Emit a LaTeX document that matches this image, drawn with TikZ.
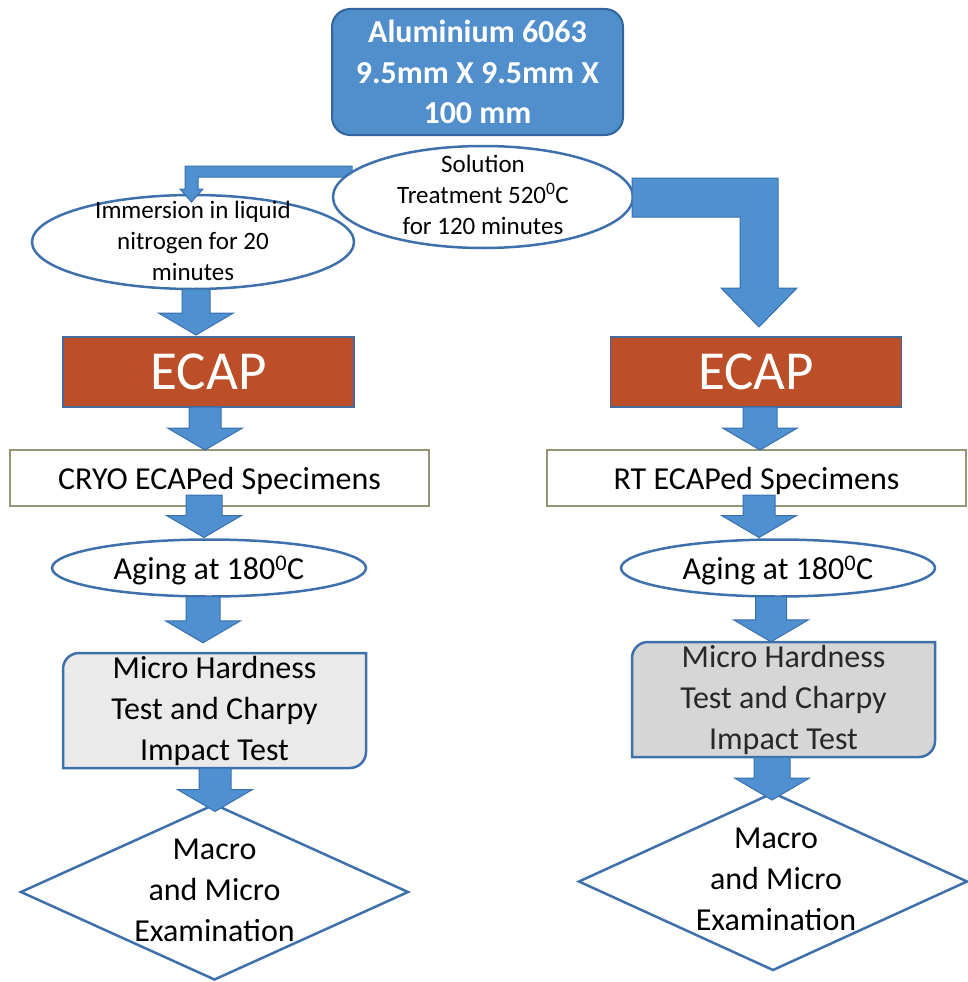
\documentclass[tikz,border=0pt]{standalone}
\usepackage{fontspec}
\setmainfont{Carlito}
\usetikzlibrary{shapes.geometric,calc}

\definecolor{ablue}{RGB}{78,144,208}
\definecolor{aedge}{RGB}{58,112,172}
\definecolor{topblue}{RGB}{80,142,204}
\definecolor{topedge}{RGB}{50,100,160}
\definecolor{eedge}{RGB}{62,112,172}
\definecolor{ecapfill}{RGB}{188,78,40}
\definecolor{ecapedge}{RGB}{70,105,160}
\definecolor{specedge}{RGB}{150,150,118}
\definecolor{microLfill}{RGB}{234,234,234}
\definecolor{microRfill}{RGB}{214,214,214}
\definecolor{microtxt}{RGB}{40,40,40}

\newcommand\fatdown[6]{% cx, source, target, shaft half, overlap, gap
  \path[fatarr] let \p1=(#2.south), \p2=(#3.north) in
    ({#1pt-#4pt},{\y1+(#5)*1pt})
    -- ({#1pt-#4pt},{\y2+(#6)*1pt+22pt})
    -- ({#1pt-37.5pt},{\y2+(#6)*1pt+22pt})
    -- ({#1pt},{\y2+(#6)*1pt})
    -- ({#1pt+37.5pt},{\y2+(#6)*1pt+22pt})
    -- ({#1pt+#4pt},{\y2+(#6)*1pt+22pt})
    -- ({#1pt+#4pt},{\y1+(#5)*1pt})
    -- cycle;}

\newcommand\diagbox[6]{% L, T, R, B, r, style
  \path[#6] (#1,#4) -- (#1,#2+#5)
    .. controls (#1,#2+0.45*#5) and (#1+0.45*#5,#2) .. (#1+#5,#2)
    -- (#3,#2) -- (#3,#4-#5)
    .. controls (#3,#4-0.45*#5) and (#3-0.45*#5,#4) .. (#3-#5,#4)
    -- cycle;}

\tikzset{
  fatarr/.style={fill=ablue, draw=aedge, line width=1pt, line join=miter},
  ell/.style={ellipse, draw=eedge, line width=2.5pt, fill=white, inner sep=0pt, outer sep=0pt},
  txtS/.style={align=center, inner sep=0pt, font=\fontsize{25}{31}\selectfont},
  txtM/.style={align=center, inner sep=0pt, font=\fontsize{32}{41}\selectfont},
  topbox/.style={rectangle, rounded corners=18pt, fill=topblue, draw=topedge, line width=2pt,
    minimum width=291pt, minimum height=126pt, inner sep=0pt, outer sep=0pt, align=center,
    text=white, font=\fontsize{32}{40.5}\selectfont\bfseries},
  ecapbox/.style={rectangle, fill=ecapfill, draw=ecapedge, line width=1.5pt,
    minimum width=291pt, minimum height=70pt, inner sep=0pt, outer sep=0pt,
    text=white, font=\fontsize{55}{60}\selectfont},
  specbox/.style={rectangle, fill=white, draw=specedge, line width=1.2pt,
    minimum width=419pt, minimum height=56pt, inner sep=0pt, outer sep=0pt,
    text depth=0pt, font=\fontsize{32}{38}\selectfont},
  microL/.style={fill=microLfill, draw=eedge, line width=2.5pt},
  microR/.style={fill=microRfill, draw=eedge, line width=2.5pt},
  diam/.style={diamond, draw=eedge, line width=2.5pt, fill=white, inner sep=0pt, outer sep=0pt},
}

\begin{document}
\begin{tikzpicture}[x=1pt,y=-1pt]
\useasboundingbox (0,0) rectangle (968,982);

% top block
\node[topbox] (top) at (477.5,72) {Aluminium 6063\\9.5mm X 9.5mm X\\100 mm};

% immersion ellipse
\node[ell, minimum width=322pt, minimum height=94pt] (imm) at (193,242) {};
\node[txtS] (immtxt) at (193,240.5) {Immersion in liquid\\nitrogen for 20\\minutes};

% thin elbow arrow (solution -> immersion)
\path[fatarr] (352,166) -- (185,166) -- (185,189) -- (180,189) -- (191.5,202)
  -- (203,189) -- (198,189) -- (198,177) -- (352,177) -- cycle;

% solution ellipse
\node[ell, minimum width=300pt, minimum height=102pt] (sol) at (483,197) {};
\node[txtS] (soltxt) at (483,195) {Solution\\Treatment 520\textsuperscript{0}C\\for 120 minutes};

% big elbow arrow (solution -> right ECAP)
\path[fatarr] (632,178) -- (778,178) -- (778,288) -- (797,288) -- (759,327)
  -- (721,288) -- (740,288) -- (740,217) -- (632,217) -- cycle;

% ECAP boxes
\node[ecapbox] (ecapL) at (208.5,372) {ECAP};
\node[ecapbox] (ecapR) at (756,372) {ECAP};

% specimen boxes
\node[specbox] (cryo) at (219.5,478) {CRYO ECAPed Specimens};
\node[specbox] (rt) at (756.5,478) {RT ECAPed Specimens};

% aging ellipses
\node[ell, minimum width=314pt, minimum height=57pt] (ageL) at (209,568) {};
\node[txtM, text depth=0pt] (ageLtxt) at (209,568) {Aging at 180\textsuperscript{0}C};
\node[ell, minimum width=314pt, minimum height=57pt] (ageR) at (778,568) {};
\node[txtM, text depth=0pt] (ageRtxt) at (778,568) {Aging at 180\textsuperscript{0}C};

% micro hardness boxes
\diagbox{63}{653}{366}{768}{16}{microL}
\node[txtM, minimum width=303pt, minimum height=115pt] (microL) at (214.5,710.5) {Micro Hardness\\Test and Charpy\\Impact Test};
\diagbox{632}{642}{935}{757}{16}{microR}
\node[txtM, text=microtxt, minimum width=303pt, minimum height=115pt] (microR) at (783.5,699.5) {Micro Hardness\\Test and Charpy\\Impact Test};

% diamonds
\node[diam, minimum width=387pt, minimum height=175pt] (diamL) at (214.5,892) {};
\node[txtM] (diamLtxt) at (214.5,890) {Macro\\and Micro\\Examination};
\node[diam, minimum width=388pt, minimum height=177pt] (diamR) at (773,881.5) {};
\node[txtM] (diamRtxt) at (776,879) {Macro\\and Micro\\Examination};

% block arrows
\fatdown{196}{imm}{ecapL}{14}{0}{2}
\fatdown{205}{ecapL}{cryo}{16}{0}{0}
\fatdown{204}{cryo}{ageL}{18}{11}{2}
\fatdown{203}{ageL}{microL}{17}{0}{10}
\fatdown{215}{microL}{diamL}{16}{0}{-7}
\fatdown{760}{ecapR}{rt}{17}{0}{0}
\fatdown{759}{rt}{ageR}{16}{11}{2}
\fatdown{771}{ageR}{microR}{15.5}{0}{0}
\fatdown{772}{microR}{diamR}{18}{0}{-7}
\end{tikzpicture}
\end{document}
